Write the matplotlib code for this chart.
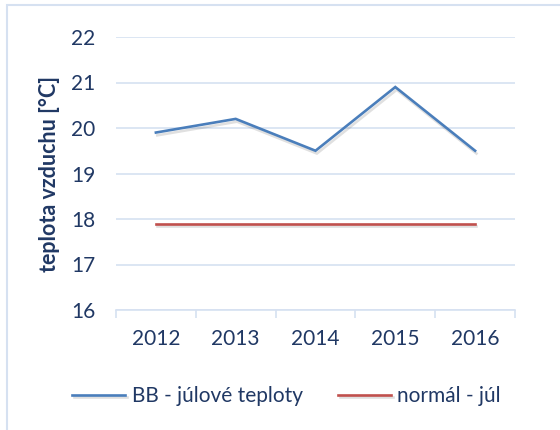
import matplotlib
matplotlib.use("Agg")
import matplotlib.pyplot as plt
import matplotlib.patheffects as pe
from matplotlib.patches import Rectangle

years = ["2012", "2013", "2014", "2015", "2016"]
bb_july = [19.9, 20.2, 19.5, 20.9, 19.5]
normal_july = [17.9, 17.9, 17.9, 17.9, 17.9]
yticks = [16, 17, 18, 19, 20, 21, 22]

plt.rcParams['font.family'] = ['Lato', 'DejaVu Sans']
txt = '#203864'
grid = '#D6E1F1'

fig = plt.figure(figsize=(5.6, 4.3), dpi=100)
fig.patches.append(Rectangle((7/560, -0.1), 1.2, 1 - 5/430 + 0.1, transform=fig.transFigure,
                             fill=False, edgecolor='#D6E1F1', linewidth=1.5))
ax = fig.add_axes([116/560, 1 - 310/430, (515 - 116)/560, (310 - 37)/430])

x = list(range(len(years)))
shadow = [pe.SimpleLineShadow(offset=(1, -2), alpha=0.12, shadow_color='black'), pe.Normal()]
ax.plot(x, bb_july, color='#4A7EBB', lw=1.9, label='BB - júlové teploty', path_effects=shadow,
        solid_joinstyle='miter')
ax.plot(x, normal_july, color='#C0504D', lw=1.9, label='normál - júl', path_effects=shadow)

ax.set_xlim(-0.5, 4.5)
ax.set_ylim(16, 22)
ax.set_yticks(yticks)
ax.set_xticks(x)
ax.set_xticklabels(years)
ax.set_xticks([i - 0.5 for i in range(6)], minor=True)
ax.grid(axis='y', color=grid, lw=1.2)
ax.set_axisbelow(True)
for s in ['top', 'right', 'left']:
    ax.spines[s].set_visible(False)
ax.spines['bottom'].set_color(grid)
ax.spines['bottom'].set_linewidth(1.2)
ax.tick_params(axis='y', length=0, pad=15, labelsize=15, labelcolor=txt)
ax.tick_params(axis='x', which='major', length=0, pad=14, labelsize=15, labelcolor=txt)
ax.tick_params(axis='x', which='minor', length=6, width=1.2, color=grid)
ax.set_ylabel('teplota vzduchu [°C]', fontsize=15.5, fontweight='bold', color=txt, labelpad=8)

leg = fig.legend(loc='center', bbox_to_anchor=(0.512, 1 - 396/430), ncol=2, frameon=False,
                 fontsize=15, handlelength=2.55, columnspacing=1.7, handletextpad=0.3)
for t in leg.get_texts():
    t.set_color(txt)

fig.savefig('out.png', dpi=100)
